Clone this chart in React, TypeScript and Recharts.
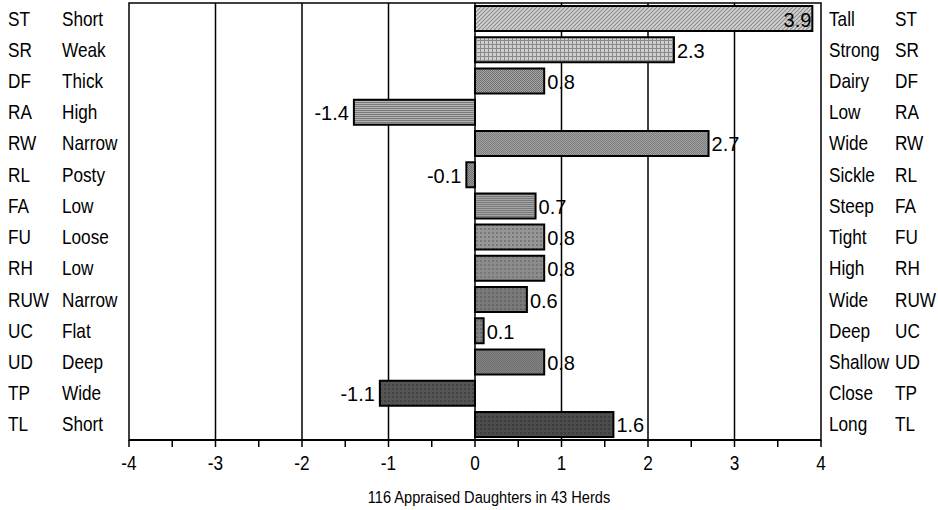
import { BarChart, Bar, XAxis, YAxis, CartesianGrid, Cell, LabelList, ReferenceArea } from 'recharts'

const codes = ['ST', 'SR', 'DF', 'RA', 'RW', 'RL', 'FA', 'FU', 'RH', 'RUW', 'UC', 'UD', 'TP', 'TL']
const lowLabels = ['Short', 'Weak', 'Thick', 'High', 'Narrow', 'Posty', 'Low', 'Loose', 'Low', 'Narrow', 'Flat', 'Deep', 'Wide', 'Short']
const highLabels = ['Tall', 'Strong', 'Dairy', 'Low', 'Wide', 'Sickle', 'Steep', 'Tight', 'High', 'Wide', 'Deep', 'Shallow', 'Close', 'Long']
const values = [3.9, 2.3, 0.8, -1.4, 2.7, -0.1, 0.7, 0.8, 0.8, 0.6, 0.1, 0.8, -1.1, 1.6]
const xTicks = [-4, -3.5, -3, -2.5, -2, -1.5, -1, -0.5, 0, 0.5, 1, 1.5, 2, 2.5, 3, 3.5, 4]
const gridValues = [-3, -2, -1, 0, 1, 2, 3]
const xDomain = [-4, 4]
const title = '116 Appraised Daughters in 43 Herds'

const SANS = "'Liberation Sans', Arial, sans-serif"

const data = codes.map((code, i) => ({ code, value: values[i] }))

// fill patterns, light to dark, top to bottom
const patterns = [
  { id: 'p0', bg: '#d4d4d4', fg: '#8c8c8c', kind: 'diag' },
  { id: 'p1', bg: '#cfcfcf', fg: '#8a8a8a', kind: 'grid' },
  { id: 'p2', bg: '#a6a6a6', fg: '#707070', kind: 'check' },
  { id: 'p3', bg: '#b4b4b4', fg: '#7a7a7a', kind: 'hline' },
  { id: 'p4', bg: '#a2a2a2', fg: '#7c7c7c', kind: 'check' },
  { id: 'p5', bg: '#9a9a9a', fg: '#6e6e6e', kind: 'check' },
  { id: 'p6', bg: '#a4a4a4', fg: '#7a7a7a', kind: 'hline' },
  { id: 'p7', bg: '#969696', fg: '#787878', kind: 'dots' },
  { id: 'p8', bg: '#8c8c8c', fg: '#767676', kind: 'dots' },
  { id: 'p9', bg: '#7a7a7a', fg: '#666666', kind: 'dots' },
  { id: 'p10', bg: '#808080', fg: '#6a6a6a', kind: 'dots' },
  { id: 'p11', bg: '#868686', fg: '#6c6c6c', kind: 'check' },
  { id: 'p12', bg: '#555555', fg: '#444444', kind: 'dots' },
  { id: 'p13', bg: '#4c4c4c', fg: '#3c3c3c', kind: 'dots' },
]

function PatternDef({ p }: { p: { id: string; bg: string; fg: string; kind: string } }) {
  if (p.kind === 'diag') {
    return (
      <pattern id={p.id} width="4" height="4" patternUnits="userSpaceOnUse">
        <rect width="4" height="4" fill={p.bg} />
        <path d="M-1,1 l2,-2 M0,4 l4,-4 M3,5 l2,-2" stroke={p.fg} strokeWidth="1.2" />
      </pattern>
    )
  }
  if (p.kind === 'grid') {
    return (
      <pattern id={p.id} width="4" height="4" patternUnits="userSpaceOnUse">
        <rect width="4" height="4" fill={p.bg} />
        <path d="M0,0.5 H4 M0.5,0 V4" stroke={p.fg} strokeWidth="1" />
      </pattern>
    )
  }
  if (p.kind === 'hline') {
    return (
      <pattern id={p.id} width="4" height="2" patternUnits="userSpaceOnUse">
        <rect width="4" height="2" fill={p.bg} />
        <path d="M0,0.5 H4" stroke={p.fg} strokeWidth="1" />
      </pattern>
    )
  }
  if (p.kind === 'check') {
    return (
      <pattern id={p.id} width="2" height="2" patternUnits="userSpaceOnUse">
        <rect width="2" height="2" fill={p.bg} />
        <rect width="1" height="1" fill={p.fg} />
        <rect x="1" y="1" width="1" height="1" fill={p.fg} />
      </pattern>
    )
  }
  return (
    <pattern id={p.id} width="4" height="4" patternUnits="userSpaceOnUse">
      <rect width="4" height="4" fill={p.bg} />
      <rect width="2" height="2" fill={p.fg} />
    </pattern>
  )
}

// no Arial Narrow here, so squeeze Liberation Sans horizontally
function NarrowText({ x, y, anchor = 'start', size = 20, children }: any) {
  return (
    <text
      transform={`translate(${x},${y}) scale(0.86,1)`}
      textAnchor={anchor}
      dominantBaseline="central"
      fontFamily={SANS}
      fontSize={size}
      fill="#000"
    >
      {children}
    </text>
  )
}

// grid lines at whole units, placed with the x axis scale
function gridX({ xAxis, offset }: any) {
  const s = xAxis?.scale
  return gridValues.map((v) => {
    if (typeof s === 'function') return s(v)
    if (s && typeof s.map === 'function') return s.map(v)
    return offset.left + ((v - xDomain[0]) / (xDomain[1] - xDomain[0])) * offset.width
  })
}

function SideLabels(props: any) {
  const { y, payload } = props
  const i = payload.index ?? codes.indexOf(payload.value)
  return (
    <g>
      <NarrowText x={8} y={y}>{codes[i]}</NarrowText>
      <NarrowText x={62} y={y}>{lowLabels[i]}</NarrowText>
      <NarrowText x={829} y={y}>{highLabels[i]}</NarrowText>
      <NarrowText x={895} y={y}>{codes[i]}</NarrowText>
    </g>
  )
}

function XTick(props: any) {
  const { x, y, payload } = props
  if (!Number.isInteger(payload.value)) return null
  return (
    <NarrowText x={x} y={y + 14} anchor="middle">
      {payload.value}
    </NarrowText>
  )
}

function Title(props: any) {
  const vb = props.viewBox
  return (
    <NarrowText x={vb.x + vb.width / 2 + 14} y={vb.y + vb.height - 13} anchor="middle" size={17}>
      {title}
    </NarrowText>
  )
}

function ValueLabel(props: any) {
  const { x, y, width, height, value } = props
  const left = Math.min(x, x + width)
  const right = Math.max(x, x + width)
  const cy = y + height / 2 + 1
  const common = { fontFamily: SANS, fontSize: 20, fill: '#000', dominantBaseline: 'central' as const }
  if (value < 0) {
    return <text x={left - 5} y={cy} textAnchor="end" {...common}>{value.toFixed(1)}</text>
  }
  if (right + 36 > 822) {
    return <text x={right - 1} y={cy} textAnchor="end" {...common}>{value.toFixed(1)}</text>
  }
  return <text x={right + 3} y={cy} textAnchor="start" {...common}>{value.toFixed(1)}</text>
}

export default function App() {
  return (
    <div style={{ position: 'absolute', left: 0, top: 0, background: '#fff' }}>
      <BarChart
        width={938}
        height={510}
        data={data}
        layout="vertical"
        margin={{ top: 3, right: 117, left: 0, bottom: 0 }}
        barCategoryGap="10%"
      >
        <defs>
          {patterns.map((p) => (
            <PatternDef key={p.id} p={p} />
          ))}
        </defs>
        <CartesianGrid
          horizontal={false}
          stroke="#000"
          strokeWidth={1.5}
          strokeOpacity={1}
          verticalCoordinatesGenerator={gridX}
        />
        <XAxis
          type="number"
          domain={xDomain}
          ticks={xTicks}
          interval={0}
          allowDataOverflow
          height={70}
          axisLine={{ stroke: '#000', strokeWidth: 2 }}
          tickLine={{ stroke: '#000', strokeWidth: 1.5 }}
          tickSize={7}
          tick={<XTick />}
          label={<Title />}
        />
        <YAxis
          type="category"
          dataKey="code"
          width={129}
          axisLine={false}
          tickLine={false}
          tick={<SideLabels />}
          interval={0}
        />
        <ReferenceArea x1={-4} x2={4} fill="none" stroke="#000" strokeWidth={1.5} fillOpacity={0} />
        <Bar dataKey="value" stroke="#000" strokeWidth={2} isAnimationActive={false}>
          {data.map((d, i) => (
            <Cell key={d.code} fill={`url(#${patterns[i].id})`} />
          ))}
          <LabelList dataKey="value" content={<ValueLabel />} />
        </Bar>
      </BarChart>
    </div>
  )
}
